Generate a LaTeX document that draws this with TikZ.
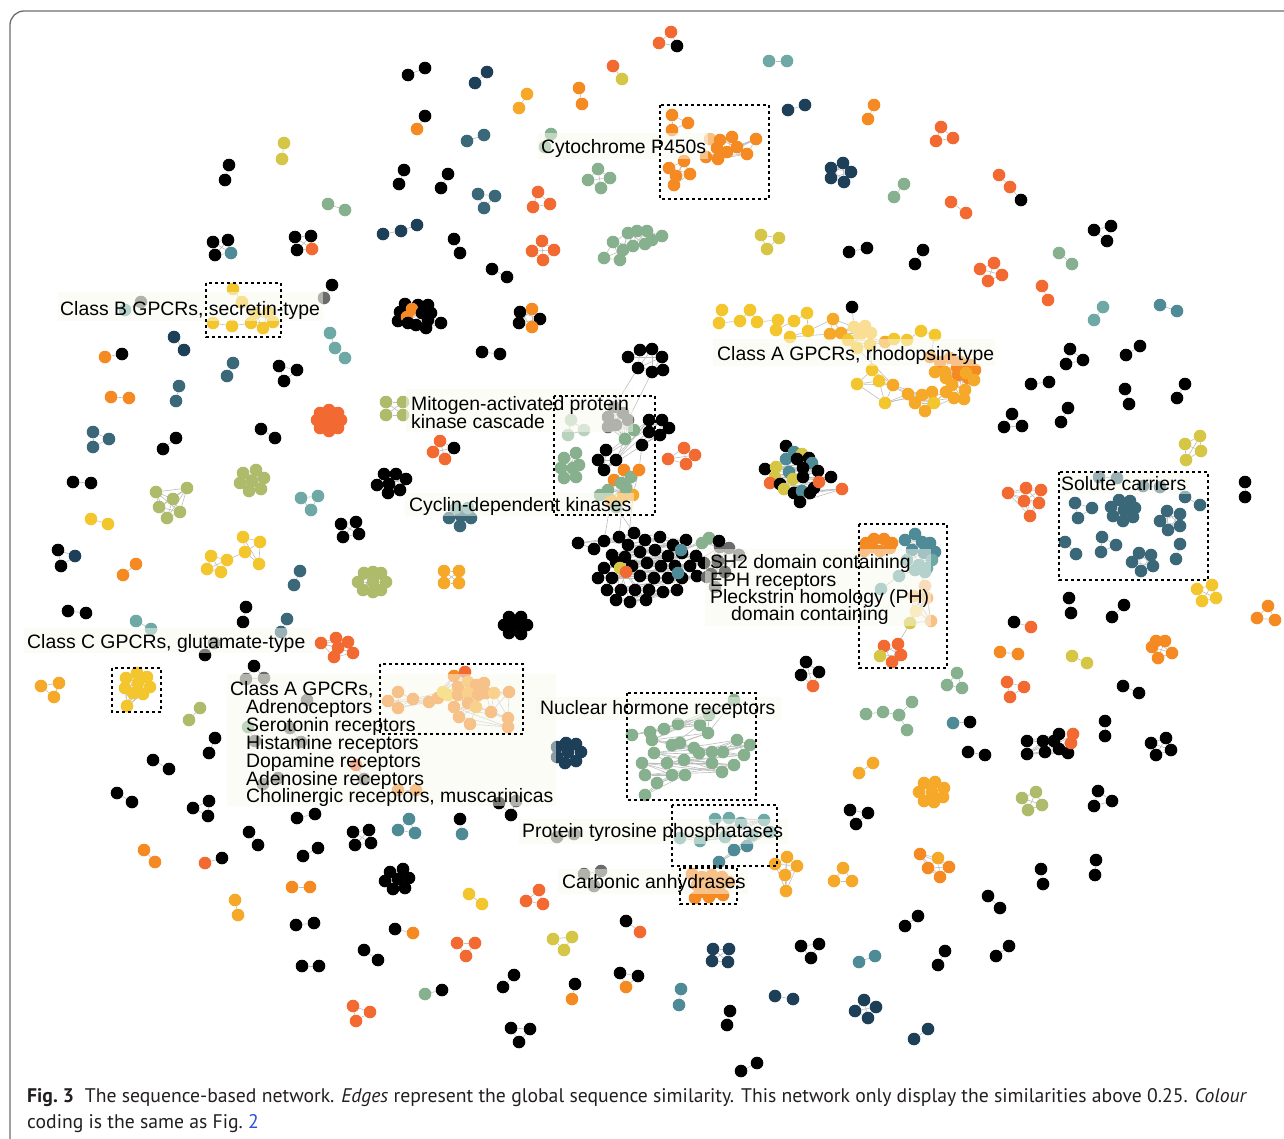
\documentclass[tikz,border=0pt]{standalone}
\usepackage{fontspec}
\usepackage{graphicx}
\newfontfamily\labfont{Liberation Sans}
\newfontfamily\capfont{PT Sans}
\pgfdeclarelayer{bglayer}
\pgfdeclarelayer{edgelayer}
\pgfsetlayers{bglayer,edgelayer,main}
\definecolor{cK}{HTML}{000000}
\definecolor{cR}{HTML}{F26A32}
\definecolor{cO}{HTML}{F58A22}
\definecolor{cA}{HTML}{F6A828}
\definecolor{cY}{HTML}{F4C62E}
\definecolor{cL}{HTML}{D5C646}
\definecolor{cG}{HTML}{ADBB6B}
\definecolor{cS}{HTML}{86B08E}
\definecolor{cT}{HTML}{6EA9A6}
\definecolor{cE}{HTML}{4E8B96}
\definecolor{cD}{HTML}{3B6879}
\definecolor{cN}{HTML}{1D3F58}
\definecolor{cM}{HTML}{6B6B6B}
\definecolor{cP}{HTML}{F8C184}
\definecolor{cW}{HTML}{F9DE93}
\definecolor{cV}{HTML}{B8D2BC}
\definecolor{cU}{HTML}{A9CDCB}
\definecolor{edgegray}{HTML}{BDBDBD}
\definecolor{labelbg}{HTML}{FAFAF0}
\definecolor{framegray}{HTML}{6E6E6E}
\definecolor{capcol}{HTML}{231F20}
\definecolor{linkblue}{HTML}{2B4FE0}
\newcounter{gc}
\newsavebox\capboxa
\def\parseitem#1/#2/#3/#4\relax{\def\px{#1}\def\py{#2}\def\pc{#3}}
\def\edgesc{\foreach \i in {1,...,\gn}{\foreach \j in {\i,...,\gn}{\ifnum\j>\i\relax\draw[lnk] (\gname-\i) -- (\gname-\j);\fi}}}
\def\edgesp{\ifnum\gn>1\relax\foreach \i in {2,...,\gn}{\pgfmathtruncatemacro\h{\i-1}\draw[lnk] (\gname-\h) -- (\gname-\i);}\fi}
\def\edgesb{\foreach \i in {1,...,\gn}{\foreach \k in {1,2,3}{\pgfmathtruncatemacro\j{\i+\k}\ifnum\j>\gn\relax\else\draw[lnk] (\gname-\i) -- (\gname-\j);\fi}}}
\def\edgesn{}
\newcommand\netgrp[4][]{%
  \stepcounter{gc}%
  \if\relax\detokenize{#1}\relax\edef\gname{G\arabic{gc}}\else\edef\gname{#1}\fi
  \def\dcol{#3}%
  \foreach[count=\i] \p in {#4}{%
    \expandafter\parseitem\p/\dcol/\relax
    \node[nd,fill=\pc] (\gname-\i) at (\px,\py) {};
    \xdef\gn{\i}%
  }%
  \begin{pgfonlayer}{edgelayer}\csname edges#2\endcsname\end{pgfonlayer}%
}
\newcommand\lk[2]{\begin{pgfonlayer}{edgelayer}\draw[lnk] (#1) -- (#2);\end{pgfonlayer}}
\newcommand\capsize{\capfont\fontsize{19}{22}\selectfont\color{capcol}}
\tikzset{
  nd/.style={circle,inner sep=0pt,minimum size=12.6pt,draw=none},
  lnk/.style={draw=edgegray,line width=0.6pt},
  lbl/.style={font=\labfont\fontsize{19.4}{21}\selectfont,inner sep=0pt,anchor=base west,text=black},
  lbg/.style={fill=labelbg,fill opacity=0.5},
  dbox/.style={draw=black,line width=1.6pt,dash pattern=on 3pt off 3pt},
}
\begin{document}
\sbox\capboxa{\capsize\textbf{Fig.~3}\hspace{0.55em}The sequence-based network. \textit{Edges} represent the global sequence similarity. This network only display the similarities above 0.25. \textit{Colour}}%
\pgfmathsetmacro\capf{1220/\the\wd\capboxa}%
\begin{tikzpicture}[x=1pt,y=-1pt]
\useasboundingbox (0,0) rectangle (1284,1138);
\clip (0,0) rectangle (1284,1138);
\begin{pgfonlayer}{bglayer}
\fill[white] (0,0) rectangle (1284,1138);
\end{pgfonlayer}
\draw[framegray,line width=1.3pt,rounded corners=14pt] (10,1200) -- (10,11) -- (1310,11) -- (1310,1200);

% ---------- top area ----------
\netgrp{c}{cR}{671/32,659/43,677/46/cK}
\netgrp{c}{cK}{408/75,425/68}
\netgrp{c}{cN}{475/83,487/72}
\netgrp{c}{cA}{527/94,519/108}
\netgrp{c}{cO}{579/88,582/104}
\netgrp{c}{cR}{613/66,622/79/cL}
\netgrp{c}{cT}{769/61,787/61}
\netgrp{c}{cL}{284/143,282/159}
\netgrp{c}{cK}{229/165,225/180}
\netgrp{c}{cK}{425/116,417/129/cO}
\netgrp{c}{cD}{467/141,484/135}
\netgrp{c}{cN}{788/110,805/105}
\netgrp{c}{cO}{874/105,868/119}
\netgrp{c}{cR}{941/127,953/138,936/141}
\netgrp{c}{cN}{843/163,831/168,851/172,831/178,844/182}
\netgrp{c}{cS}{904/184,894/197}
\netgrp{c}{cR}{951/202,966/213}
\netgrp{p}{cR}{999/175,1010/187,1021/200/cK}
\netgrp{c}{cK}{404/170,399/184}
\netgrp{c}{cK}{448/174,441/188}
\netgrp{c}{cD}{478/194,495/196,484/208}
\netgrp{c}{cR}{538/192,550/204,533/207}
\netgrp{c}{cS}{598/169,610/178,588/180,601/188}
% Cytochrome P450s
\netgrp{c}{cO}{672/115,688/123,672/130}
\netgrp[cyp]{b}{cO}{710/139/cP,720/140,732/137,717/148,737/147,727/152,747/154,756/139,706/157,718/159}
\netgrp{c}{cO}{684/161,669/168,690/174,676/176,674/185}
\netgrp{c}{cS}{551/134,545/147}
\netgrp{c}{cS}{328/204,345/210}
\netgrp{p}{cN}{383/234,401/231,417/225}
\netgrp{c}{cK}{454/239,460/253}
\netgrp{c}{cR}{542/241,532/251,554/250,543/260}
\netgrp{b}{cS}{604/258,620/260,613/242,623/250,628/233,633/246,637/231,645/244,647/231,652/240,662/236}
\netgrp{c}{cL}{761/235,779/238,767/249}
\netgrp{c}{cK}{849/252,867/248}
\netgrp{c}{cK}{923/250,915/264}
\netgrp{c}{cK}{1094/230,1111/226,1107/241}
\netgrp{c}{cS}{1059/253,1072/264}
\netgrp{c}{cR}{994/263,980/269,1002/275,988/281}
\netgrp{c}{cR}{1042/286,1048/300}
\netgrp{c}{cT}{1103/307,1094/320}
\netgrp{c}{cE}{1160/305,1177/311}
\netgrp{c}{cK}{1070/349,1083/360,1066/364}
\netgrp{c}{cK}{1126/355,1140/346}
\netgrp{c}{cK}{213/242,228/240,215/255,231/253/cE}
\netgrp{c}{cK}{295/237,311/236,297/250,312/249/cR}
\netgrp{c}{cK}{492/269,507/277}
% Class B
\netgrp[cb]{c}{cY}{251/323,263/328,273/322,268/312,255/313}
\netgrp[cbl]{p}{cY}{213/323,232/326}
\netgrp[cbt]{p}{cY}{233/289,242/302}
\lk{cbl-2}{cb-1}
\lk{cbt-2}{cb-5}
\netgrp{c}{cT}{125/310,141/302/cM}
\netgrp{c}{cK}{332/285,324/298/cM}
\netgrp{c}{cN}{174/337,184/350}
\netgrp{c}{cO}{105/357,122/354/cK}
\netgrp{c}{cD}{233/363,227/376}
\netgrp{p}{cT}{330/333,335/348,345/358}
\netgrp{b}{cK}{405/304,418/305,428/305,400/312,412/309/cO,422/313,431/313,398/321,407/317/cO,408/323,416/325,426/328,428/320,441/323}
\netgrp{c}{cK}{520/312,532/309/cO,540/319,519/323,532/327/cO}
\netgrp{c}{cK}{482/352,500/354}
\netgrp[mk]{b}{cK}{628/357,640/350,652/349,662/357,638/368,652/372,663/370}
\netgrp{c}{cK}{279/366,297/370,284/381}
\netgrp{c}{cO}{111/397,129/398}
\netgrp{c}{cD}{179/386,176/401}
\netgrp{c}{cR}{329/410,338/413,341/420,338/428,329/431,320/428,317/420,320/413,329/420}
\netgrp{c}{cD}{93/432,109/439,93/447}
\netgrp{c}{cK}{176/438,163/449}
\netgrp{c}{cK}{261/429,275/438}
\netgrp{c}{cK}{73/482,91/483}
\netgrp{c}{cG}{156/492,187/488,173/499,159/507,180/512,167/518}
\netgrp{c}{cG}{243/473,256/470,264/478,261/489,249/491,240/483,252/481}
\netgrp{c}{cT}{301/498,318/496,311/510}
\netgrp{c}{cY}{91/519,108/524}
\netgrp{c}{cK}{58/550,61/566,75/556/cN}
\netgrp{c}{cO}{123/575,136/564}
\netgrp[yg]{c}{cY}{211/556,227/560,207/569,221/572}
\netgrp[yh]{c}{cY}{245/552,243/537,260/542,259/564}
\lk{yg-2}{yh-1}
\netgrp{c}{cD}{300/571,294/585}
\netgrp{c}{cK}{68/611,86/613}
\netgrp{c}{cK}{246/607,243/622}
\netgrp{c}{cD}{287/619,281/632}
\netgrp{c}{cT}{136/621,151/629}
\netgrp{c}{cM}{214/643,205/655/cK}
\netgrp{c}{cA}{41/686,59/683,54/697}
% Class C
\netgrp{c}{cY}{137/673,147/677,126/678,138/683,150/687,125/688,133/693,143/694,127/706}
\netgrp{c}{cK}{254/666,246/679/cM,264/678/cM}
\netgrp{c}{cG}{200/708,189/720}
\netgrp{c}{cR}{321/643,336/638,348/642,338/648,353/653,334/657}
% MAPK surroundings
\netgrp{c}{cG}{386/402,403/402,386/415,403/415}
\netgrp{c}{cR}{440/441,454/448/cK,433/452,445/459}
\netgrp{c}{cK}{384/474,396/474,406/479,377/485,389/484,400/490,388/493}
\netgrp{c}{cK}{341/524,356/522,359/534,343/537}
\netgrp{c}{cD}{449/518,461/516,471/518,460/526,456/508/cT,468/508/cT}
\netgrp{c}{cG}{364/573,373/572,381/573,386/582,381/590,373/592,363/590,358/582,373/582}
\netgrp{c}{cA}{444/571,459/571,444/583,459/583}
\netgrp{c}{cK}{509/617,521/617,504/625,527/625,509/633,521/634,516/625}
% MAPK / CDK box
\netgrp{c}{cV}{571/420,584/430,568/435}
\netgrp{c}{cS}{564/458,576/453,579/465,561/468,573/468,564/478,576/477}
\netgrp[gm]{c}{cM}{614/407,623/413,608/417,628/420,616/425,608/427,634/430/cS,625/439/cS}
\netgrp[bm]{b}{cK}{606/450,616/460,598/460,604/470,649/420,662/420,669/428,649/432,660/435,642/445}
\netgrp[om]{b}{cO}{614/480,624/470,621/483/cS,631/477/cS,623/497/cA,633/495/cA,611/500/cA,639/470,608/490/cS,616/507/cS,626/488/cS,600/495/cS}
\lk{mk-5}{gm-1}
\lk{mk-6}{gm-4}
\lk{gm-8}{bm-2}
\lk{gm-7}{bm-8}
\lk{bm-2}{om-2}
\lk{bm-10}{om-8}
% CDK black cluster
\netgrp[cdk]{b}{cK}{578/543,594/549,604/541,619/537,634/533,628/545,645/540,660/537,673/545,686/540,612/555,625/557,640/552,655/550,668/556,682/553,696/556,604/568,616/562,632/566,647/563,661/566,675/566,690/566,704/563,718/561,598/578,612/578,640/576,654/578,668/578,682/578,697/576,711/574,725/572,607/590,621/590,635/590,649/590,663/592,677/590,630/602,646/600,616/600,620/568/cL,626/572/cR,681/550/cE,678/573/cE,702/543/cS,709/538/cS,720/547/cM,729/548/cM,739/555/cM,715/587/cM,707/577/cM,719/541}
\lk{om-10}{cdk-5}
\lk{om-5}{cdk-4}
\lk{om-6}{cdk-6}
\lk{om-7}{cdk-3}
% Class A rhodopsin
\netgrp[ra]{p}{cY}{722/310,719/323,740/321,750/310,757/322,778/320,776/330,794/321,807/313,808/331,790/337}
\netgrp[rb]{b}{cW}{833/319/cA,841/333/cA,830/334/cA,854/327,865/326,871/333,860/335,848/340/cY,870/345/cY,885/342/cA,857/348/cY}
\netgrp[rk]{c}{cK}{852/307}
\netgrp[rc]{p}{cY}{894/339,907/340,921/331,935/335}
\netgrp[rd]{b}{cA}{930/357/cO,940/362/cO,950/358/cO,960/362/cO,970/365/cO,945/372,958/375/cO,968/378/cO,935/372,952/385,965/390,975/370/cO,946/378,957/367/cO,964/399,966/373,974/380}
\netgrp[re]{b}{cA}{872/370/cY,857/384/cY,879/381/cY,893/385,885/403/cY,908/394,922/395,932/392,934/403/cY,915/403,925/411,946/392,954/398}
\lk{ra-11}{rb-3}
\lk{ra-10}{rb-1}
\lk{rk-1}{rb-4}
\lk{rb-10}{rc-1}
\lk{rb-9}{re-1}
\lk{rc-4}{rd-1}
\lk{re-12}{rd-10}
\lk{rb-11}{re-4}
% mixed cluster
\netgrp{b}{cK}{786/446,794/452/cE,802/454/cL,809/458,786/459/cE,797/459,812/463/cE,765/469,776/467/cL,789/472/cE,803/468,818/471,775/477/cL,793/479/cL,803/477,831/477,770/483/cR,780/484,784/489/cL,814/488,819/482/cR,794/493,802/491/cE,810/493,842/489/cR,800/502}
\netgrp{c}{cR}{684/448,695/455,668/459,686/464}
% SH2 box
\netgrp[sh]{b}{cO}{866/543,874/539,884/539,892/543,872/547,864/551,880/551,890/548}
\netgrp[st]{b}{cE}{915/534,905/540,922/542,930/543,935/552,912/550,924/553,932/560/cT,919/565/cT,907/560/cT,927/568/cT,915/570/cT,925/572/cT}
\netgrp[sl]{p}{cT}{899/576,881/589}
\netgrp[sp]{c}{cP}{925/586,914/596,927/598,916/611/cW,931/621,910/623/cL}
\netgrp[so]{c}{cR}{898/644,884/646,880/656/cL,901/655,892/662}
\lk{sh-4}{st-2}
\lk{st-12}{sl-1}
\lk{st-9}{sp-1}
\lk{sp-6}{so-1}
\netgrp{c}{cK}{806/662,801/675,819/672,813/686/cR}
% Solute carriers
\netgrp{c}{cD}{1099/477,1117/478}
\netgrp{c}{cD}{1143/486,1160/487}
\netgrp{c}{cD}{1075/503,1092/508,1078/518}
\netgrp{c}{cD}{1119/500,1130/501,1111/507,1124/510,1135/508,1113/516,1123/521,1133/517}
\netgrp{c}{cD}{1185/497,1200/505}
\netgrp{c}{cD}{1167/511,1180/514,1160/521,1180/526,1168/530}
\netgrp{c}{cD}{1065/542,1076/554}
\netgrp{c}{cD}{1102/537,1116/545,1101/552}
\netgrp{c}{cD}{1139/553,1151/555,1132/562,1153/566,1141/571}
\netgrp{c}{cD}{1180/544,1176/559}
% right side
\netgrp{c}{cK}{1031/384,1049/382}
\netgrp{c}{cK}{1125/389,1129/404}
\netgrp{c}{cK}{1185/384,1177/398}
\netgrp{c}{cK}{1012/414,1004/427,1022/426}
\netgrp{c}{cK}{1068/408,1061/422}
\netgrp{c}{cL}{1200/436,1185/444,1201/451,1186/460}
\netgrp{c}{cK}{1245/482,1245/497}
\netgrp{c}{cR}{1008/493,1026/488,1041/490,1024/501,1039/503,1030/516}
\netgrp{c}{cY}{1197/589,1212/585,1216/598,1202/601}
\netgrp{c}{cO}{1268/606,1257/618,1275/620}
\netgrp{c}{cK}{1069/598,1071/613}
\netgrp{c}{cK}{1124/605,1112/617}
\netgrp{c}{cK}{1014/622,1031/627/cR}
\netgrp{c}{cO}{1156/641,1165/641,1152/647,1172/653,1158/658}
\netgrp{c}{cO}{1000/652,1018/654}
\netgrp{c}{cL}{1072/656,1087/663}
\netgrp{c}{cR}{1007/682,1024/687,1010/697}
\netgrp{c}{cK}{1123/686,1139/693}
\netgrp{c}{cS}{957/673,947/685,962/688}
\netgrp{p}{cS}{866/714,883/712,899/715,912/702}
\netgrp{c}{cS}{899/715,907/730}
\netgrp{c}{cE}{953/723,970/722/cK}
\netgrp{c}{cK}{968/752,985/755}
\netgrp{c}{cK}{1105/721,1105/736}
\netgrp{b}{cK}{1027/741,1043/741,1054/741,1059/734,1027/754,1045/752,1059/749,1068/753,1073/734/cR,1071/743/cR}
\netgrp{c}{cK}{1151/743,1166/738,1171/750,1156/755}
\netgrp{c}{cG}{1022/798,1036/792,1042/805,1028/810}
\netgrp{c}{cK}{1098/791,1112/801,1094/806}
\netgrp{c}{cK}{1041/869,1043/884}
\netgrp{c}{cK}{1096/860,1095/875}
\netgrp{c}{cK}{988/896,1000/908}
\netgrp{c}{cK}{1009/946,996/956}
% bottom-left
\netgrp{c}{cK}{215/738,209/753}
\netgrp{c}{cK}{153/760,169/769}
\netgrp{c}{cK}{117/793,132/802}
\netgrp{c}{cK}{209/801,193/808,208/816}
\netgrp{c}{cK}{249/832,258/845}
\netgrp{c}{cK}{297/818,315/814}
\netgrp{c}{cO}{144/850,155/862}
\netgrp{c}{cR}{205/863,222/858/cK}
\netgrp{c}{cK}{303/856,318/848}
\netgrp{c}{cO}{292/887,310/887}
\netgrp{c}{cA}{235/900,238/915}
\netgrp{c}{cK}{296/925,314/923}
\netgrp{c}{cK}{302/966,319/966}
\netgrp{c}{cM}{290/728,301/742}
\netgrp{c}{cM}{263/784,278/778}
\netgrp{c}{cS}{248/727,255/741/cM}
\netgrp{c}{cM}{307/700}
\netgrp{c}{cR}{356/765,364/779/cM}
\netgrp{c}{cO}{398/790,416/790}
% Class A amine
\netgrp[am]{b}{cO}{398/692,388/701,398/708,413/699,429/702,438/698,443/692/cY,454/676,465/672/cR,458/687,468/682/cA,476/685,484/683,448/695/cY,458/695,468/693/cA,478/695,486/693,494/693/cA,509/692,491/712,508/718,468/703,476/707/cA,454/707,459/717,470/724,508/727}
% bottom middle
\netgrp{c}{cK}{499/803,516/801/cM,511/815}
\netgrp{c}{cK}{353/832,369/830,355/845,371/843}
\netgrp{c}{cE}{409/819,398/830,415/833}
\netgrp{c}{cK}{460/819,462/834/cE}
\netgrp{c}{cN}{557/747,566/743,576/744,581/752,576/761,565/763,557/757,568/752}
\netgrp{c}{cM}{557/837,574/834}
\netgrp{c}{cK}{390/872,403/869,409/878,385/881,398/879,393/889,405/888}
\netgrp{c}{cM}{584/874,601/871,594/886}
\netgrp{c}{cY}{469/894,482/904}
\netgrp{c}{cR}{539/890,526/901,543/904}
\netgrp{c}{cK}{395/929,413/933/cO}
\netgrp{c}{cR}{457/943,475/943,466/956}
\netgrp{c}{cL}{553/939,572/937,564/950}
\netgrp{c}{cK}{364/950,378/960}
\netgrp{c}{cK}{514/975,503/987}
\netgrp{c}{cK}{575/984,572/999/cO}
\netgrp{c}{cK}{620/973,638/976,626/987/cO}
\netgrp{c}{cK}{626/921,640/932/cR}
\netgrp{c}{cS}{425/994,442/990/cK}
\netgrp{c}{cR}{353/1006,370/1012,356/1021}
\netgrp{c}{cK}{511/1028,530/1029,519/1042}
% Nuclear hormone receptors
\netgrp[nh]{b}{cS}{632/735,650/732,664/729,678/724,700/725,709/715,734/700,708/733,652/740,672/745,680/743,694/748,699/753,712/752,723/752,737/740,750/745,744/755,654/753,667/763,684/760,712/763,722/772,734/765,642/763,645/775,672/775,685/775,657/783,645/795}
% PTP / carbonic anhydrases
\netgrp[pt]{b}{cT}{715/819,729/818,741/823,764/820,680/838,700/841,725/837,752/835,770/832,734/850/cE,747/846/cE,719/862/cE}
\netgrp{b}{cO}{692/874,702/877,712/875,722/877,697/885,709/885,720/885,729/882,700/892,714/892,695/898,709/897,723/895}
\netgrp{c}{cA}{787/857,797/866,775/864,785/875,786/891}
\netgrp{c}{cA}{843/868,834/881,852/881}
\netgrp{c}{cA}{859/773,873/763}
\netgrp{c}{cA}{924/783,935/782,944/788,943/797,934/802,924/801,919/792,932/792}
\netgrp{c}{cK}{850/810,868/813,856/824}
\netgrp{c}{cA}{920/854/cO,938/858,949/867/cO,928/868/cO,940/877/cO}
\netgrp{c}{cK}{905/926,918/916}
\netgrp{c}{cN}{713/949,729/949,712/961,728/962}
\netgrp{c}{cK}{801/946,819/944,811/958}
\netgrp{c}{cE}{859/962,875/956}
\netgrp{c}{cK}{945/951,938/965}
\netgrp{c}{cE}{681/989,679/1005}
\netgrp{c}{cN}{775/996,793/999}
\netgrp{c}{cK}{730/1011,727/1025}
\netgrp{c}{cN}{864/1000,876/1007,855/1011,868/1018}
\netgrp{c}{cN}{928/1029,914/1039}
\netgrp{c}{cK}{757/1063,741/1071}

% ---------- labels ----------
\fill[lbg] (58,292) rectangle (323,321);
\node[lbl] (lB) at (60,315) {Class B GPCRs, secretin-type};
\fill[lbg] (538,133) rectangle (708,159);
\node[lbl] (lCyp) at (541,153) {Cytochrome P450s};
\fill[lbg] (713,339) rectangle (995,366);
\node[lbl] (lRho) at (717,360) {Class A GPCRs, rhodopsin-type};
\fill[lbg] (406,389) rectangle (633,432);
\node[lbl] (lMa1) at (411,410) {Mitogen-activated protein};
\node[lbl] (lMa2) at (411,428) {kinase cascade};
\fill[lbg] (405,493) rectangle (634,516);
\node[lbl] (lCdk) at (409,511) {Cyclin-dependent kinases};
\fill[lbg] (705,549) rectangle (931,626);
\node[lbl] (lSh1) at (710,568) {SH2 domain containing};
\node[lbl] (lSh2) at (710,586) {EPH receptors};
\node[lbl] (lSh3) at (710,603) {Pleckstrin homology (PH)};
\node[lbl] (lSh4) at (731,620) {domain containing};
\fill[lbg] (1059,472) rectangle (1190,494);
\node[lbl] (lSol) at (1061,490) {Solute carriers};
\fill[lbg] (24,628) rectangle (312,653);
\node[lbl] (lC) at (27,648) {Class C GPCRs, glutamate-type};
\fill[lbg] (227,674) rectangle (556,806);
\node[lbl] (lA1) at (230,695) {Class A GPCRs,};
\node[lbl] (lA2) at (246,713) {Adrenoceptors};
\node[lbl] (lA3) at (246,731) {Serotonin receptors};
\node[lbl] (lA4) at (246,749) {Histamine receptors};
\node[lbl] (lA5) at (246,767) {Dopamine receptors};
\node[lbl] (lA6) at (246,785) {Adenosine receptors};
\node[lbl] (lA7) at (246,802) {Cholinergic receptors, muscarinicas};
\fill[lbg] (536,697) rectangle (781,720);
\node[lbl] (lNuc) at (540,714) {Nuclear hormone receptors};
\fill[lbg] (519,819) rectangle (788,844);
\node[lbl] (lPtp) at (522,837) {Protein tyrosine phosphatases};
\fill[lbg] (558,869) rectangle (748,894);
\node[lbl] (lCa) at (562,888) {Carbonic anhydrases};

% ---------- dotted boxes ----------
\draw[dbox] (660,105) rectangle (769,199);
\draw[dbox] (206,283) rectangle (281,337);
\draw[dbox] (554,396) rectangle (655,515);
\draw[dbox] (859,524) rectangle (947,668);
\draw[dbox] (1059,472) rectangle (1208,580);
\draw[dbox] (112,668) rectangle (161,712);
\draw[dbox] (380,664) rectangle (523,734);
\draw[dbox] (627,693) rectangle (756,800);
\draw[dbox] (672,805) rectangle (777,866);
\draw[dbox] (680,868) rectangle (737,904);

% ---------- caption ----------
\node[anchor=base west,inner sep=0pt] (cap1) at (27,1102) {\scalebox{\capf}{\usebox\capboxa}};
\node[anchor=base west,inner sep=0pt] (cap2) at (27,1128) {\scalebox{\capf}{\capsize coding is the same as Fig.~\textcolor{linkblue}{2}}};
\end{tikzpicture}
\end{document}
